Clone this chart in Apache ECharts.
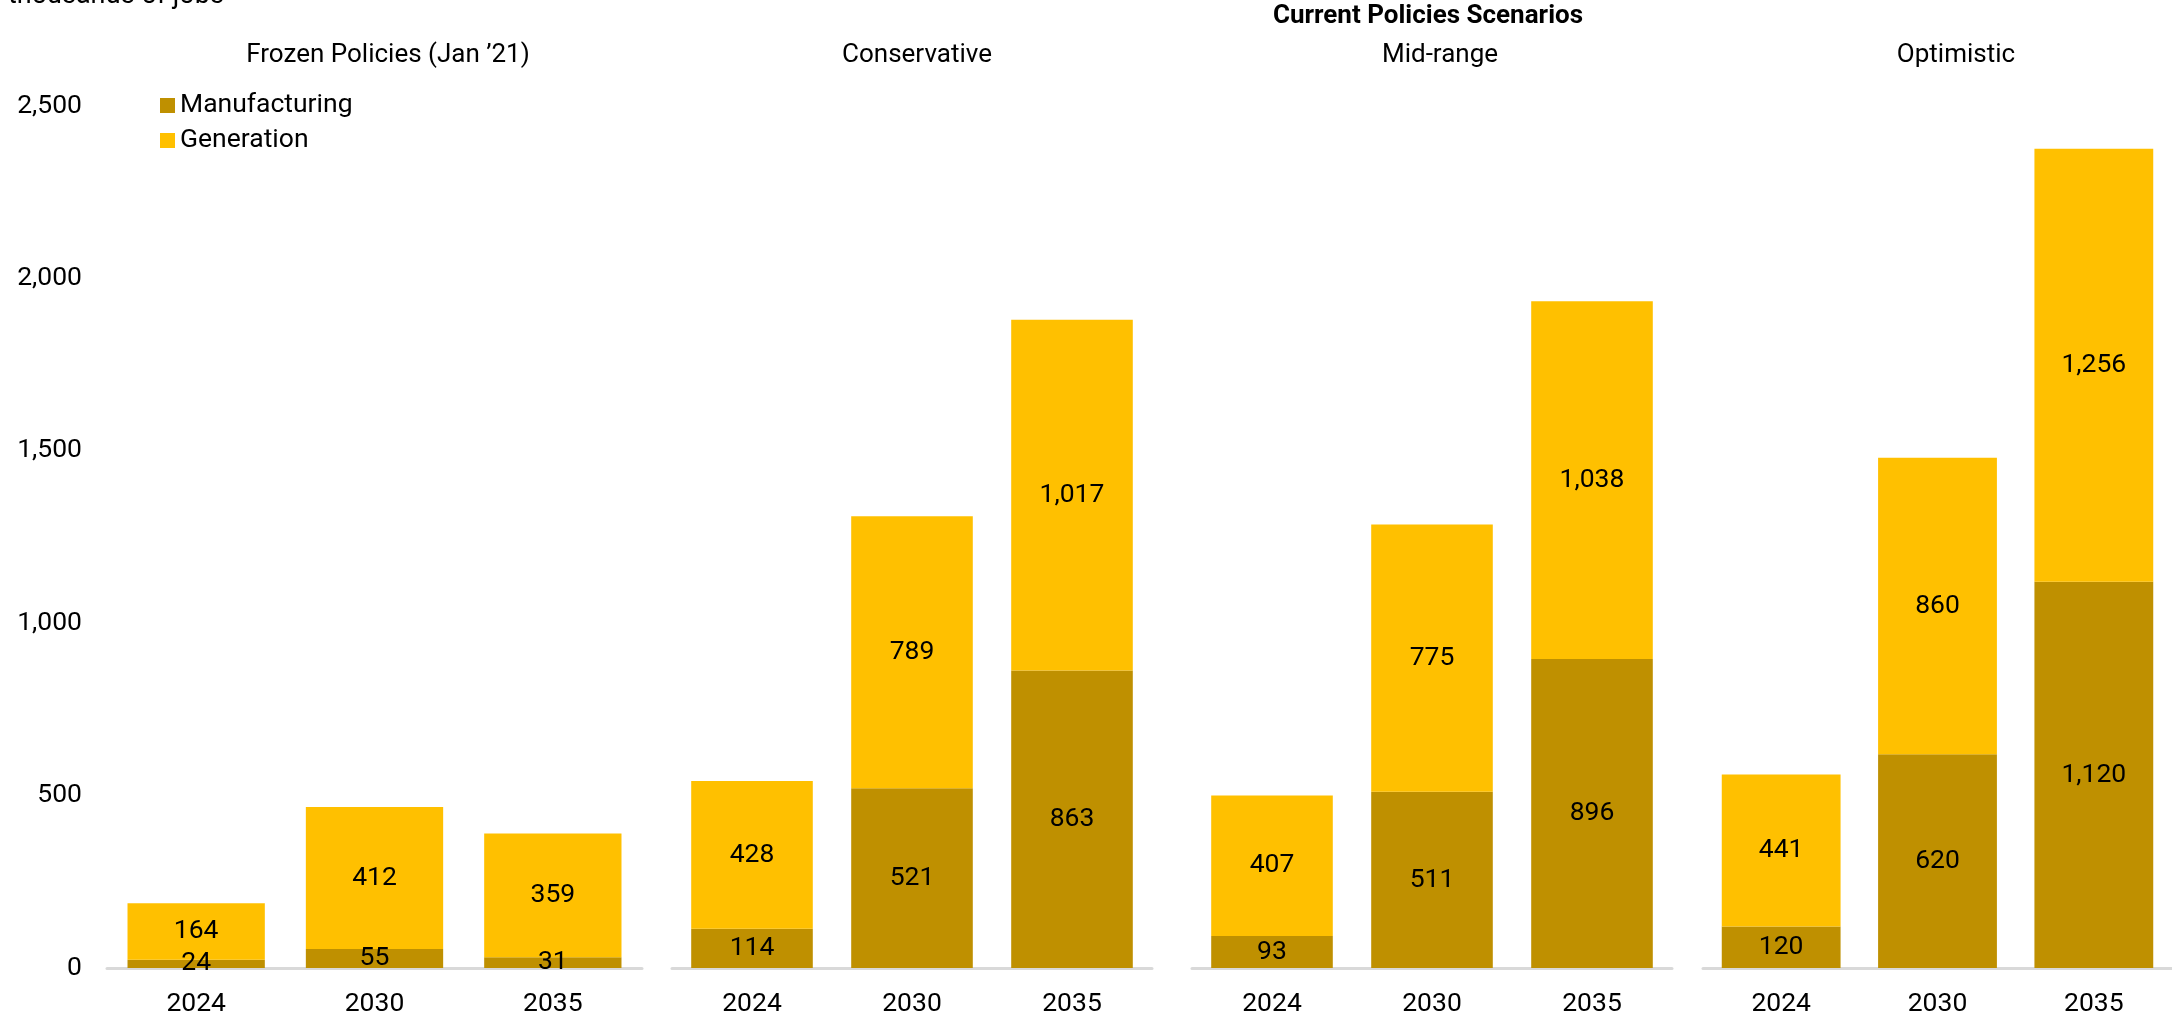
<!DOCTYPE html>
<html>
<head>
<meta charset="utf-8">
<script src="https://cdn.jsdelivr.net/npm/echarts@6/dist/echarts.min.js"></script>
<style>
html, body { margin: 0; padding: 0; background: #fff; }
#chart { width: 2172px; height: 1020px; }
</style>
</head>
<body>
<div id="chart"></div>
<script>
// values, thousands of jobs
let years = ["2024", "2030", "2035"]
let panelNames = ["Frozen Policies (Jan \u201921)", "Conservative", "Mid-range", "Optimistic"]
let manufacturing = [
    [24, 55, 31],
    [114, 521, 863],
    [93, 511, 896],
    [120, 620, 1120]
]
let generation = [
    [164, 412, 359],
    [428, 789, 1017],
    [407, 775, 1038],
    [441, 860, 1256]
]
let yTicks = [0, 500, 1000, 1500, 2000, 2500]

let colorMfg = "#BF9000"
let colorGen = "#FFC000"
let font = "Roboto"
let fs = 26.5

// grid placement for the four panels
let gridLeft = [107, 672, 1192, 1703]
let gridWidth = [535, 480, 480, 480]
let barWidths = ["77%", "76%", "76%", "76%"]
let titleX = [388, 917, 1440, 1956]

function fmt(v) {
    return Number(v).toLocaleString("en-US")
}

let grids = [], xAxes = [], yAxes = [], series = [], graphics = []
for (let i = 0; i < 4; i++) {
    grids.push({ left: gridLeft[i], width: gridWidth[i], top: 106, bottom: 52 })
    xAxes.push({
        type: "category",
        gridIndex: i,
        data: years,
        axisLine: { lineStyle: { color: "#D9D9D9", width: 3 } },
        axisTick: { show: false },
        axisLabel: { color: "#000", fontSize: fs, fontFamily: font, margin: 23 }
    })
    yAxes.push({
        type: "value",
        gridIndex: i,
        min: yTicks[0],
        max: yTicks[yTicks.length - 1],
        interval: 500,
        splitLine: { show: false },
        axisLine: { show: false },
        axisTick: { show: false },
        axisLabel: {
            show: i == 0,
            color: "#000",
            fontSize: fs,
            fontFamily: font,
            margin: 25,
            formatter: fmt
        }
    })
    let label = {
        show: true,
        position: "inside",
        color: "#000",
        fontSize: fs,
        fontFamily: font,
        formatter: function (p) { return fmt(p.value) }
    }
    series.push({
        name: "Manufacturing",
        type: "bar",
        stack: "s" + i,
        xAxisIndex: i,
        yAxisIndex: i,
        barWidth: barWidths[i],
        itemStyle: { color: colorMfg },
        label: label,
        data: manufacturing[i]
    })
    series.push({
        name: "Generation",
        type: "bar",
        stack: "s" + i,
        xAxisIndex: i,
        yAxisIndex: i,
        barWidth: barWidths[i],
        itemStyle: { color: colorGen },
        label: label,
        data: generation[i]
    })
    graphics.push({
        type: "text",
        x: titleX[i],
        y: 55,
        style: {
            text: panelNames[i],
            fill: "#000",
            font: "26px " + font,
            align: "center",
            verticalAlign: "middle"
        }
    })
}

graphics.push({
    type: "text",
    x: 1428,
    y: 16,
    style: {
        text: "Current Policies Scenarios",
        fill: "#000",
        font: "bold 26px " + font,
        align: "center",
        verticalAlign: "middle"
    }
})
graphics.push({
    type: "text",
    x: 8,
    y: -4,
    style: {
        text: "thousands of jobs",
        fill: "#000",
        font: "27px " + font,
        align: "left",
        verticalAlign: "middle"
    }
})

let chart = echarts.init(document.getElementById("chart"), null, { renderer: "canvas" })
chart.setOption({
    animation: false,
    backgroundColor: "#fff",
    textStyle: { fontFamily: font },
    legend: {
        data: ["Manufacturing", "Generation"],
        orient: "vertical",
        left: 155,
        top: 87,
        icon: "rect",
        itemWidth: 15,
        itemHeight: 15,
        itemGap: 8,
        textStyle: { color: "#000", fontSize: fs, fontFamily: font }
    },
    grid: grids,
    xAxis: xAxes,
    yAxis: yAxes,
    series: series,
    graphic: graphics
})
</script>
</body>
</html>
